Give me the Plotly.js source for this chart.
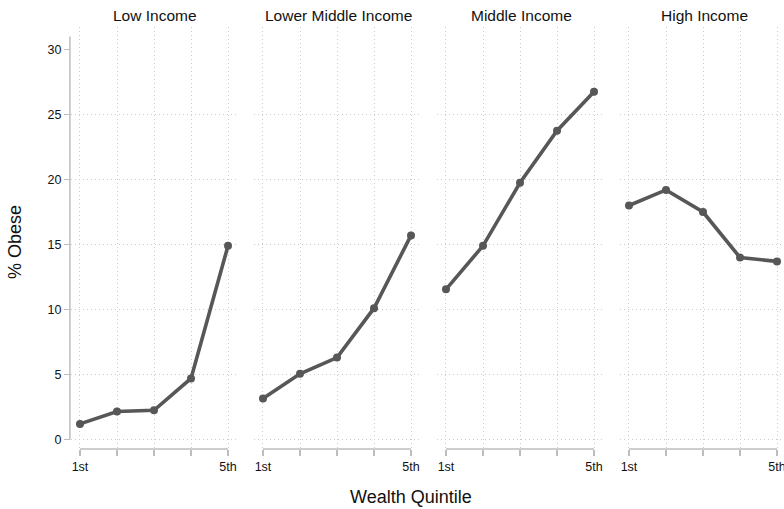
<!DOCTYPE html>
<html>
<head>
<meta charset="utf-8">
<script src="https://cdn.plot.ly/plotly-3.0.1.min.js"></script>
<style>
html,body{margin:0;padding:0;overflow:hidden;background:#fff;}
#chart{width:788px;height:509px;}
</style>
</head>
<body>
<div id="chart"></div>
<script>
// Data
const quintiles = [1, 2, 3, 4, 5];
const quintileLabels = ['1st', '', '', '', '5th'];
const panelTitles = ['Low Income', 'Lower Middle Income', 'Middle Income', 'High Income'];
const lowIncome = [1.2, 2.15, 2.25, 4.7, 14.9];
const lowerMiddleIncome = [3.15, 5.05, 6.3, 10.1, 15.7];
const middleIncome = [11.55, 14.9, 19.75, 23.75, 26.75];
const highIncome = [18.0, 19.2, 17.5, 14.0, 13.7];
const yTicks = [0, 5, 10, 15, 20, 25, 30];
const yGrid = [0, 5, 10, 15, 20, 25];

const series = [lowIncome, lowerMiddleIncome, middleIncome, highIncome];
const font = 'Liberation Sans, Arial, Helvetica, sans-serif';
const lineCol = '#575757';
const axisCol = '#bdbdbd';
const gridCol = '#cccccc';
const gridDash = '1px,3px';

const plotW = 717;
const panelW = 168, gap = 15;
const domains = [0,1,2,3].map(i => [(i*(panelW+gap))/plotW, Math.min(1,(i*(panelW+gap)+panelW)/plotW)]);
const xr = [0.757, 5.297];
const yr = [-0.73, 31.73];

const traces = series.map((s, i) => ({
  x: quintiles, y: s, type: 'scatter', mode: 'lines+markers',
  xaxis: i === 0 ? 'x' : 'x' + (i+1),
  yaxis: i === 0 ? 'y' : 'y' + (i+1),
  line: {color: lineCol, width: 3.6},
  marker: {color: lineCol, size: 8},
  showlegend: false, hoverinfo: 'skip'
}));
// empty trace to host the tick-only y axis of the first panel
traces.push({x: [], y: [], type: 'scatter', mode: 'markers', xaxis: 'x5', yaxis: 'y5', showlegend: false, hoverinfo: 'skip'});

const layout = {
  width: 788, height: 509,
  margin: {l: 71, r: 0, t: 27, b: 60},
  paper_bgcolor: '#fff', plot_bgcolor: 'rgba(0,0,0,0)',
  font: {family: font, color: '#111'},
  showlegend: false,
  annotations: [], shapes: []
};

for (let i = 0; i < 4; i++) {
  const xk = i === 0 ? 'xaxis' : 'xaxis' + (i+1);
  const yk = i === 0 ? 'yaxis' : 'yaxis' + (i+1);
  const xid = i === 0 ? 'x' : 'x' + (i+1);
  const yid = i === 0 ? 'y' : 'y' + (i+1);
  layout[xk] = {
    domain: domains[i], anchor: yid, range: xr, fixedrange: true,
    tickmode: 'array', tickvals: quintiles, ticktext: quintileLabels,
    ticks: 'outside', ticklen: 6, tickcolor: axisCol, tickwidth: 1.3,
    showgrid: true, gridcolor: gridCol, griddash: gridDash, gridwidth: 1,
    zeroline: false, showline: false,
    tickfont: {family: font, size: 12.5, color: '#111'}
  };
  layout[yk] = {
    domain: [0, 1], anchor: xid, range: yr, fixedrange: true,
    zeroline: false, showline: false,
    tickmode: 'array', tickvals: yGrid, showticklabels: false, ticks: '',
    showgrid: true, gridcolor: gridCol, griddash: gridDash, gridwidth: 1
  };
  layout.annotations.push({
    text: panelTitles[i], xref: xid + ' domain', yref: 'paper',
    x: 0.5, y: 1.028, xanchor: 'center', yanchor: 'middle', showarrow: false,
    font: {family: font, size: 15.5, color: '#111'}
  });
  layout.shapes.push({
    type: 'line', xref: xid, yref: 'paper',
    x0: quintiles[0], x1: quintiles[quintiles.length-1], y0: 0, y1: 0,
    line: {color: axisCol, width: 1.5}
  });
}
// tick-only axis for first panel (labels 0..30, no grid)
layout.xaxis5 = {domain: domains[0], anchor: 'y5', range: xr, fixedrange: true,
  showgrid: false, zeroline: false, showline: false, showticklabels: false, ticks: ''};
layout.yaxis5 = {domain: [0, 1], anchor: 'x5', range: yr, fixedrange: true,
  tickmode: 'array', tickvals: yTicks, ticktext: yTicks.map(String),
  ticks: 'outside', ticklen: 6, tickcolor: axisCol, tickwidth: 1.3,
  showgrid: false, zeroline: false, showline: false,
  tickfont: {family: font, size: 12.5, color: '#111'}};
// y axis line
layout.shapes.push({
  type: 'line', xref: 'paper', yref: 'y',
  x0: -0.0015, x1: -0.0015, y0: yTicks[0], y1: 31,
  line: {color: axisCol, width: 1.5}
});
// axis titles
layout.annotations.push({
  text: '% Obese', xref: 'paper', yref: 'paper',
  x: (15 - 71) / plotW, y: (449 - 242) / 422, xanchor: 'center', yanchor: 'middle',
  textangle: -90, showarrow: false, font: {family: font, size: 18, color: '#111'}
});
layout.annotations.push({
  text: 'Wealth Quintile', xref: 'paper', yref: 'paper',
  x: (411 - 71) / plotW, y: (449 - 497) / 422, xanchor: 'center', yanchor: 'middle',
  showarrow: false, font: {family: font, size: 18, color: '#111'}
});

Plotly.newPlot('chart', traces, layout, {staticPlot: true, displayModeBar: false});
</script>
</body>
</html>
